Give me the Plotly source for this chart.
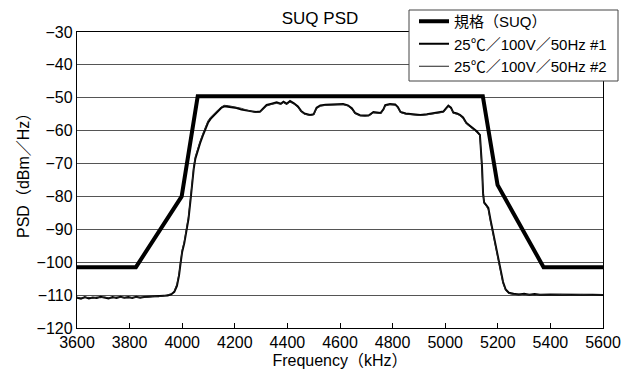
import plotly.graph_objects as go

# Spectral mask (SUQ) corner points
mask_freq = [3600, 3824, 3998, 4059, 5143, 5199, 5374, 5600]
mask_psd = [-101.5, -101.5, -80.0, -49.5, -49.5, -76.5, -101.5, -101.5]

# Measured PSD, 25C / 100V / 50Hz, run #1
freq_1 = [3600, 3615, 3630, 3645, 3660, 3675, 3690, 3705, 3720, 3735, 3750, 3765,
          3780, 3795, 3810, 3825, 3840, 3855, 3870, 3890, 3910, 3930, 3945, 3958,
          3970, 3980, 3988, 3994, 4000, 4008, 4016, 4024, 4032, 4038, 4044, 4050,
          4058, 4068, 4078, 4088, 4098, 4108, 4118, 4128, 4138, 4148, 4160, 4175,
          4190, 4207, 4225, 4240, 4258, 4280, 4296, 4310, 4321, 4340, 4359, 4375,
          4385, 4397, 4410, 4425, 4440, 4452, 4465, 4486, 4500, 4511, 4525, 4545,
          4562, 4590, 4612, 4630, 4645, 4657, 4676, 4695, 4710, 4727, 4740, 4755,
          4765, 4772, 4790, 4810, 4820, 4830, 4850, 4880, 4905, 4930, 4955, 4975,
          4993, 5003, 5012, 5022, 5031, 5045, 5056, 5068, 5080, 5095, 5107, 5120,
          5132, 5136, 5140, 5144, 5148, 5156, 5164, 5172, 5182, 5192, 5200, 5210,
          5220, 5230, 5242, 5260, 5280, 5300, 5320, 5340, 5360, 5400, 5440, 5480,
          5520, 5560, 5600]
psd_1 = [-110.8, -111.1, -110.6, -111.0, -110.7, -110.9, -110.5, -110.8, -111.0, -110.6, -110.9, -110.5,
         -110.8, -110.6, -110.9, -110.5, -110.8, -110.6, -110.5, -110.5, -110.4, -110.3, -110.1, -109.8,
         -109.0, -107.2, -104.0, -100.2, -96.8, -94.2, -90.5, -86.8, -80.8, -75.5, -71.5, -68.5,
         -66.2, -63.8, -61.6, -59.6, -57.6, -56.4, -55.6, -54.9, -53.9, -53.1, -52.6, -52.8,
         -53.0, -53.1, -53.6, -53.8, -54.1, -54.3, -54.2, -53.0, -52.2, -51.8, -51.4, -51.8,
         -51.2, -51.8, -51.0, -51.7, -52.6, -54.0, -54.8, -55.2, -55.0, -53.0, -52.3, -52.1,
         -52.0, -52.0, -51.9, -52.3, -53.2, -54.6, -55.3, -55.4, -55.3, -54.3, -54.5, -54.6,
         -53.5, -52.2, -51.9, -52.0, -52.8, -54.3, -54.8, -55.1, -55.2, -55.0, -54.6, -54.4,
         -54.2, -53.2, -52.4, -53.0, -54.5, -54.8, -55.2, -56.0, -57.6, -58.6, -59.3, -60.2,
         -61.3, -65.0, -71.0, -79.0, -81.8, -82.6, -83.5, -87.0, -91.0, -94.5, -97.5, -102.0,
         -106.0, -108.3, -109.3, -109.6, -109.8, -109.6, -109.9, -109.7, -109.9, -109.8, -109.9, -109.8,
         -109.9, -109.9, -110.0]

# Measured PSD, 25C / 100V / 50Hz, run #2
freq_2 = freq_1
psd_2 = [-110.6, -110.9, -110.8, -110.7, -110.9, -110.6, -110.8, -110.6, -110.8, -110.9, -110.6, -110.7,
         -110.6, -110.9, -110.7, -110.7, -110.6, -110.8, -110.6, -110.4, -110.5, -110.2, -110.0, -109.6,
         -108.7, -106.6, -103.4, -99.6, -96.2, -93.6, -90.0, -86.0, -80.2, -74.8, -70.8, -67.8,
         -65.6, -63.2, -61.0, -59.0, -57.0, -55.9, -55.0, -54.4, -53.5, -52.8, -52.3, -52.4,
         -52.6, -52.8, -53.2, -53.6, -54.0, -54.5, -54.4, -53.3, -52.5, -52.0, -51.7, -52.0,
         -51.5, -52.0, -51.3, -51.9, -52.9, -54.2, -55.0, -55.4, -55.2, -53.3, -52.6, -52.3,
         -52.3, -52.2, -52.1, -52.5, -53.5, -54.8, -55.5, -55.6, -55.5, -54.6, -54.8, -54.8,
         -53.8, -52.5, -52.1, -52.3, -53.1, -54.5, -55.0, -55.3, -55.4, -55.2, -54.8, -54.6,
         -54.4, -53.5, -52.7, -53.3, -54.7, -55.0, -55.4, -56.3, -57.9, -58.9, -59.6, -60.5,
         -61.6, -65.6, -71.8, -79.6, -82.2, -83.0, -84.0, -87.6, -91.6, -95.0, -98.0, -102.6,
         -106.5, -108.6, -109.5, -109.8, -109.7, -109.9, -109.8, -110.0, -109.8, -110.0, -109.8, -110.0,
         -109.8, -110.0, -109.9]

x_ticks = list(range(3600, 5601, 200))
y_ticks = list(range(-120, -29, 10))

FONT = "Liberation Sans, Arial, Noto Sans CJK JP, sans-serif"

# Plot-area geometry in pixels, used to place the legend frame in paper units
W, H = 632, 378
ML, MR, MT, MB = 77, 29, 32, 50
PW, PH = W - ML - MR, H - MT - MB


def px_x(px):
    return (px - ML) / PW


def px_y(py):
    return 1 + (MT - py) / PH


fig = go.Figure()
fig.add_trace(go.Scatter(x=mask_freq, y=mask_psd, mode="lines", name="規格（SUQ）",
                         line=dict(color="black", width=4)))
fig.add_trace(go.Scatter(x=freq_1, y=psd_1, mode="lines", name="25℃／100V／50Hz #1",
                         line=dict(color="black", width=2)))
fig.add_trace(go.Scatter(x=freq_2, y=psd_2, mode="lines", name="25℃／100V／50Hz #2",
                         line=dict(color="#222222", width=1)))

# White legend frame overlapping the top-right corner of the plot
fig.add_shape(type="rect", xref="paper", yref="paper",
              x0=px_x(409), x1=px_x(618), y0=px_y(81), y1=px_y(10),
              fillcolor="white", line=dict(color="#444444", width=1), layer="above")

# Vertical y-axis title
fig.add_annotation(text="PSD（dBm／Hz）", textangle=-90, xref="paper", yref="paper",
                   x=px_x(23), y=px_y(172), xanchor="center", yanchor="middle",
                   showarrow=False, font=dict(size=16))

fig.update_layout(
    width=W, height=H,
    margin=dict(l=ML, r=MR, t=MT, b=MB, autoexpand=False),
    paper_bgcolor="white", plot_bgcolor="white",
    font=dict(family=FONT, size=16, color="black"),
    title=dict(text="SUQ PSD", x=px_x(320), xref="paper", xanchor="center",
               y=1 - 18 / H, yanchor="middle", font=dict(size=17)),
    showlegend=True,
    legend=dict(x=px_x(414), y=px_y(5), xanchor="left", yanchor="top",
                bgcolor="rgba(0,0,0,0)", borderwidth=0,
                font=dict(size=15), tracegroupgap=0, itemwidth=30),
    xaxis=dict(range=[3600, 5600], tickvals=x_ticks, ticks="inside", ticklen=5,
               tickcolor="black", showgrid=False, showline=True, linecolor="black",
               linewidth=1.3, mirror=True, zeroline=False,
               title=dict(text="Frequency（kHz）", standoff=4, font=dict(size=16))),
    yaxis=dict(range=[-120, -30], tickvals=y_ticks, ticks="", showgrid=True,
               gridcolor="#555555", gridwidth=1, showline=True, linecolor="black",
               linewidth=1.3, mirror=True, zeroline=False),
)

fig.write_html("out.html")
